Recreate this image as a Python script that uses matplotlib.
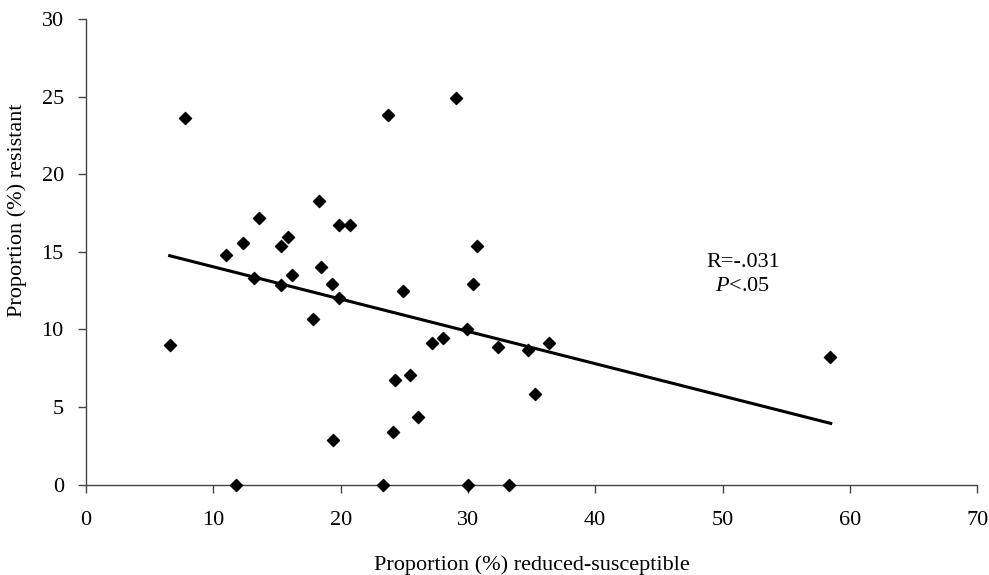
import numpy as np
import matplotlib.pyplot as plt

# Proportion (%) reduced-susceptible vs proportion (%) resistant
reduced = [7.75, 23.7, 18.3, 13.6, 19.85, 20.7, 15.9, 12.36, 10.96, 15.3,
           18.45, 13.2, 15.3, 16.14, 19.3, 19.9, 17.8, 24.9, 6.57, 24.3,
           24.1, 19.4, 29.05, 30.7, 30.4, 29.9, 27.2, 28.05, 32.4, 34.75,
           36.36, 25.47, 35.3, 26.05, 58.47, 11.75, 23.3, 29.97, 33.2]
resistant = [23.6, 23.8, 18.3, 17.2, 16.7, 16.7, 15.95, 15.6, 14.8, 15.4,
             14.05, 13.3, 12.85, 13.5, 12.9, 12.05, 10.7, 12.5, 9.0, 6.75,
             3.4, 2.85, 24.9, 15.35, 12.95, 10.0, 9.15, 9.45, 8.85, 8.65,
             9.1, 7.05, 5.85, 4.35, 8.25, 0, 0, 0, 0]

# trend line as drawn in the figure (end points)
trend_x = [6.57, 58.5]
trend_y = [14.75, 3.95]

plt.rcParams['font.family'] = ['Liberation Serif', 'DejaVu Serif']
plt.rcParams['mathtext.fontset'] = 'custom'
plt.rcParams['mathtext.rm'] = 'Liberation Serif'
plt.rcParams['mathtext.it'] = 'Liberation Serif:italic'

fig = plt.figure(figsize=(9.89, 5.75), dpi=100)
ax = fig.add_axes([0.087, 0.157, 0.901, 0.81])

ax.plot(trend_x, trend_y, color='black', lw=2.2, zorder=2)
ax.scatter(reduced, resistant, marker='D', s=38, color='black', zorder=3,
           clip_on=False)

ax.set_xlim(0, 70)
ax.set_ylim(0, 30)
ax.set_xticks(range(0, 71, 10))
ax.set_yticks(range(0, 31, 5))

for s in ['top', 'right']:
    ax.spines[s].set_visible(False)
for s in ['left', 'bottom']:
    ax.spines[s].set_color('#444444')
    ax.spines[s].set_linewidth(1.0)

ax.tick_params(axis='both', direction='out', length=6, width=1,
               color='#444444', labelsize=16)
ax.tick_params(axis='x', pad=13)
ax.tick_params(axis='y', pad=10)

ax.set_xlabel('Proportion (%) reduced-susceptible', fontsize=16)
ax.set_ylabel('Proportion (%) resistant', fontsize=16)
ax.xaxis.set_label_coords(0.5, -0.152)
ax.yaxis.set_label_coords(-0.066, 0.59)

ax.text(51.6, 14.3, 'R=-.031', fontsize=16, ha='center', va='center')
ax.text(51.6, 12.75, r'$\it{P}$<.05', fontsize=16, ha='center', va='center')

fig.savefig('out.png', dpi=100)
